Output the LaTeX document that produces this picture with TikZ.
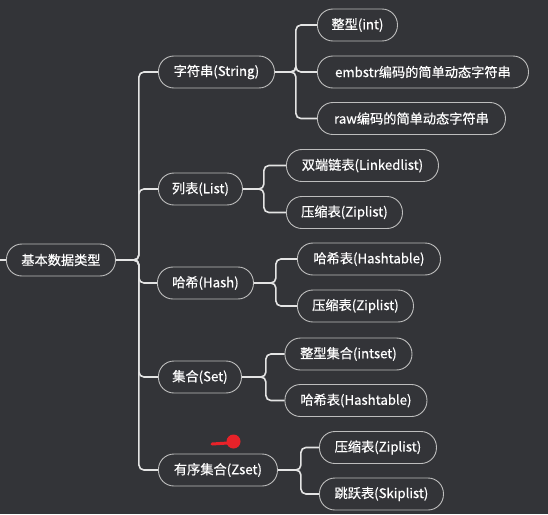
\documentclass[tikz,border=0pt]{standalone}
\usepackage{fontspec}
\setmainfont{Noto Sans CJK SC}
\newfontfamily\nodefont{Noto Sans CJK SC}[FakeBold=0.5]
\definecolor{bg}{HTML}{333438}
\definecolor{nodeborder}{HTML}{BDBDBD}
\definecolor{connline}{HTML}{E4E4E4}
\definecolor{laser}{HTML}{E82229}
\begin{document}
\begin{tikzpicture}[x=1pt,y=-1pt,
  box/.style={draw=nodeborder, line width=0.9pt, rounded corners=15.5pt, anchor=west,
    minimum height=32pt, inner sep=0pt, text=white,
    font=\nodefont\fontsize{13.2}{15}\selectfont},
  conn/.style={draw=connline, line width=1.6pt, rounded corners=5pt}]
\fill[bg] (0,0) rectangle (548,514);
\useasboundingbox (0,0) rectangle (548,514);
% root
\node[box, minimum width=109pt] (root) at (6,260) {基本数据类型};
\coordinate (lin) at (0,260);
% level 1
\node[box, minimum width=116pt] (str) at (158,72) {字符串(String)};
\node[box, minimum width=84pt] (lst) at (158,189) {列表(List)};
\node[box, minimum width=96pt] (hsh) at (157,283) {哈希(Hash)};
\node[box, minimum width=83pt] (set) at (158,377) {集合(Set)};
\node[box, minimum width=119pt] (zst) at (158,470) {有序集合(Zset)};
% level 2 string
\node[box, minimum width=80pt] (s1) at (317,25) {整型(int)};
\node[box, minimum width=211pt] (s2) at (317,72) {embstr编码的简单动态字符串};
\node[box, minimum width=188pt] (s3) at (317,118.5) {raw编码的简单动态字符串};
% list
\node[box, minimum width=152pt] (l1) at (286,165.5) {双端链表(Linkedlist)};
\node[box, minimum width=116pt] (l2) at (286,212.5) {压缩表(Ziplist)};
% hash
\node[box, minimum width=143pt] (h1) at (297,259) {哈希表(Hashtable)};
\node[box, minimum width=116pt] (h2) at (297,306) {压缩表(Ziplist)};
% set
\node[box, minimum width=127pt] (t1) at (284.5,354) {整型集合(intset)};
\node[box, minimum width=142pt] (t2) at (284.5,400.5) {哈希表(Hashtable)};
% zset
\node[box, minimum width=117pt] (z1) at (319,447.5) {压缩表(Ziplist)};
\node[box, minimum width=124pt] (z2) at (319,494) {跳跃表(Skiplist)};
% connectors
\draw[conn] (lin) -- (root.west);
\foreach \c in {str,lst,hsh,set,zst}
  \draw[conn] (root.east) -- ++(23,0) |- (\c.west);
\foreach \c in {s1,s2,s3}
  \draw[conn] (str.east) -- ++(21,0) |- (\c.west);
\foreach \c in {l1,l2}
  \draw[conn] (lst.east) -- ++(21,0) |- (\c.west);
\foreach \c in {h1,h2}
  \draw[conn] (hsh.east) -- ++(22,0) |- (\c.west);
\foreach \c in {t1,t2}
  \draw[conn] (set.east) -- ++(24,0) |- (\c.west);
\foreach \c in {z1,z2}
  \draw[conn] (zst.east) -- ++(23,0) |- (\c.west);
% laser pointer mark
\draw[laser, line width=3pt, line cap=round] (212,444) -- (228,443);
\fill[laser] (233.5,441.5) circle (7);
\end{tikzpicture}
\end{document}
